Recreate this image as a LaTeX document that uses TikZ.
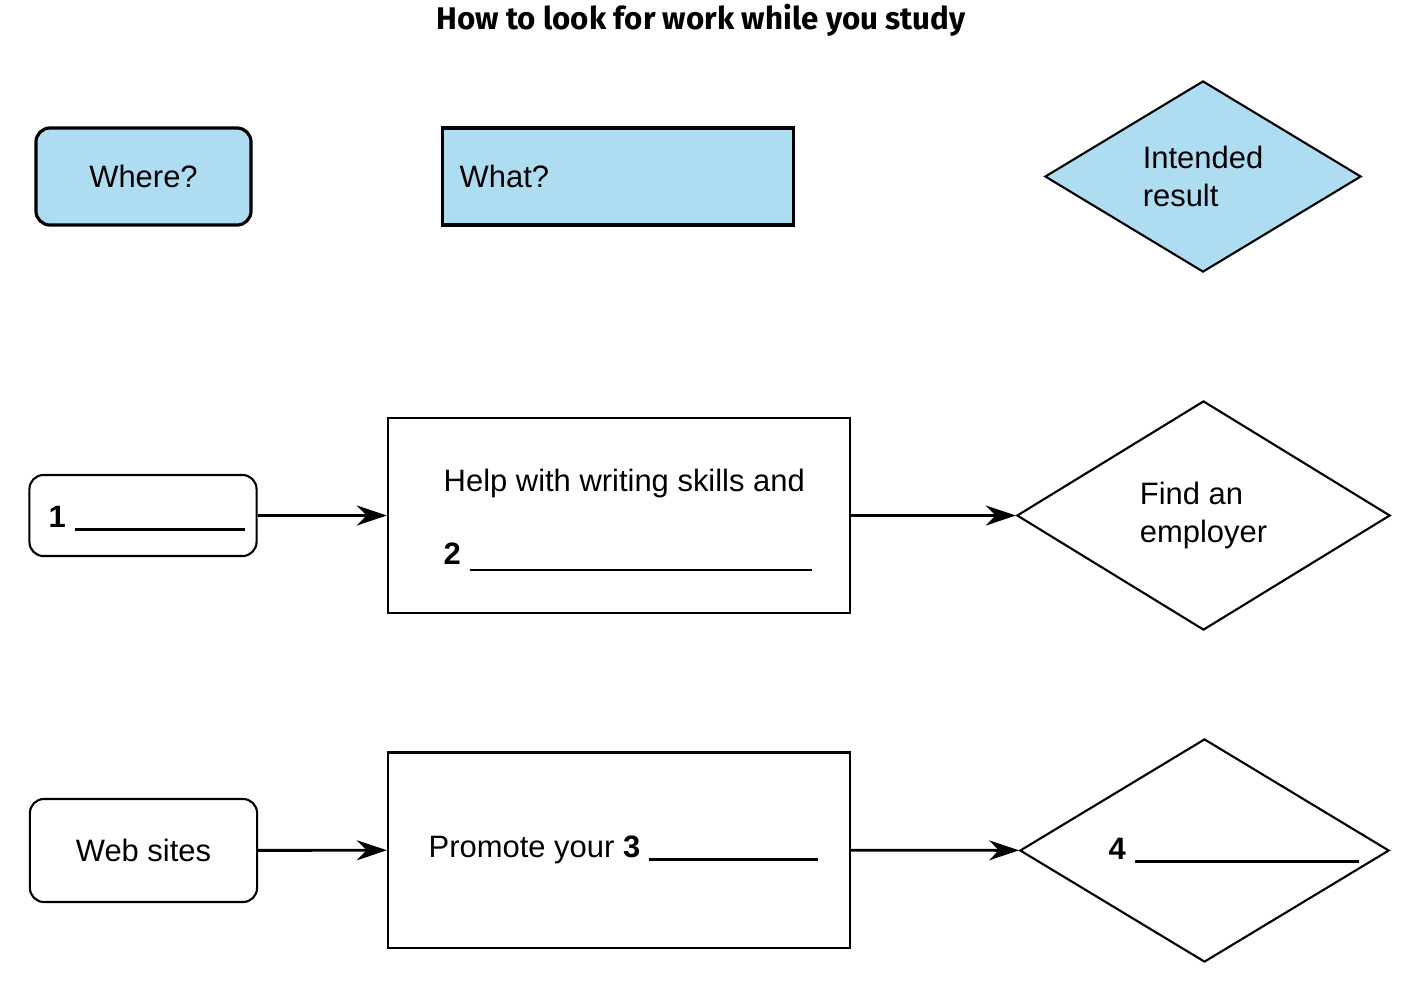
\documentclass[tikz,border=0pt]{standalone}
\usepackage{fontspec}
\setmainfont{Liberation Sans}
\newfontfamily\titlefont{Fira Sans}
\usetikzlibrary{shapes.geometric,arrows.meta,positioning}
\definecolor{headblue}{RGB}{174,221,242}

\begin{document}
\begin{tikzpicture}[x=0.01cm,y=-0.01cm]
    \tikzstyle{block} = [rectangle,draw=black,line width=0.6pt,font=\fontsize{8.8}{11}\selectfont];
    \tikzstyle{source} = [block,rounded corners=4pt,minimum width=2.27cm];
    \tikzstyle{head} = [block,fill=headblue,line width=0.9pt,minimum height=0.97cm];
    \tikzstyle{action} = [block,minimum width=4.62cm,minimum height=1.95cm];
    \tikzstyle{result} = [diamond,draw=black,line width=0.6pt,inner sep=0pt,align=left,font=\fontsize{8.8}{11}\selectfont];
    \tikzstyle{filltext} = [anchor=base west,inner sep=0pt,font=\fontsize{8.8}{11}\selectfont];
    \tikzstyle{flow} = [line width=0.8pt,-{Stealth[length=0.3cm,width=0.2cm]}];

    \useasboundingbox (0,0) rectangle (1418,1002);

    \node[name=title,font=\titlefont\bfseries\fontsize{8.9}{10}\selectfont] at (701,20) {How to look for work while you study};

    % header row
    \node[head,name=where,rounded corners=4pt,minimum width=2.15cm] at (143.5,176.5) {Where?};
    \node[head,name=what,minimum width=3.5cm] at (618,176.5) {};
    \node[filltext,name=whattext,anchor=west] at (459,176.5) {What?};
    \node[result,name=intended,fill=headblue,minimum width=3.16cm,minimum height=1.91cm] at (1203,176.5) {Intended\\result};

    % first row
    \node[source,name=gap1,minimum height=0.81cm] at (143,515.5) {};
    \node[filltext,name=blank1] at (48,527) {\textbf{1} \rule[-1pt]{1.7cm}{0.7pt}};
    \node[action,name=help] at (619,515.5) {};
    \node[filltext,name=helptext] at (443,491) {Help with writing skills and};
    \node[filltext,name=blank2] at (443,564) {\textbf{2} \rule[-2pt]{3.42cm}{0.7pt}};
    \node[result,name=employer,minimum width=3.73cm,minimum height=2.29cm] at (1203.5,515.5) {Find an\\employer};

    % second row
    \node[source,name=websites,minimum height=1.03cm] at (143.5,850.5) {Web sites};
    \node[action,name=promote] at (619,850) {};
    \node[filltext,name=blank3] at (428,857) {Promote your \textbf{3} \rule[-1pt]{1.69cm}{0.7pt}};
    \node[result,name=gap4,minimum width=3.69cm,minimum height=2.23cm] at (1204.5,850.5) {};
    \node[filltext,name=blank4] at (1108,859) {\textbf{4} \rule[-1pt]{2.24cm}{0.7pt}};

    \draw[flow] (gap1) -- (help);
    \draw[flow] (help) -- (employer);
    \draw[flow] (websites) -- (promote);
    \draw[flow] (promote) -- (gap4);
\end{tikzpicture}
\end{document}
